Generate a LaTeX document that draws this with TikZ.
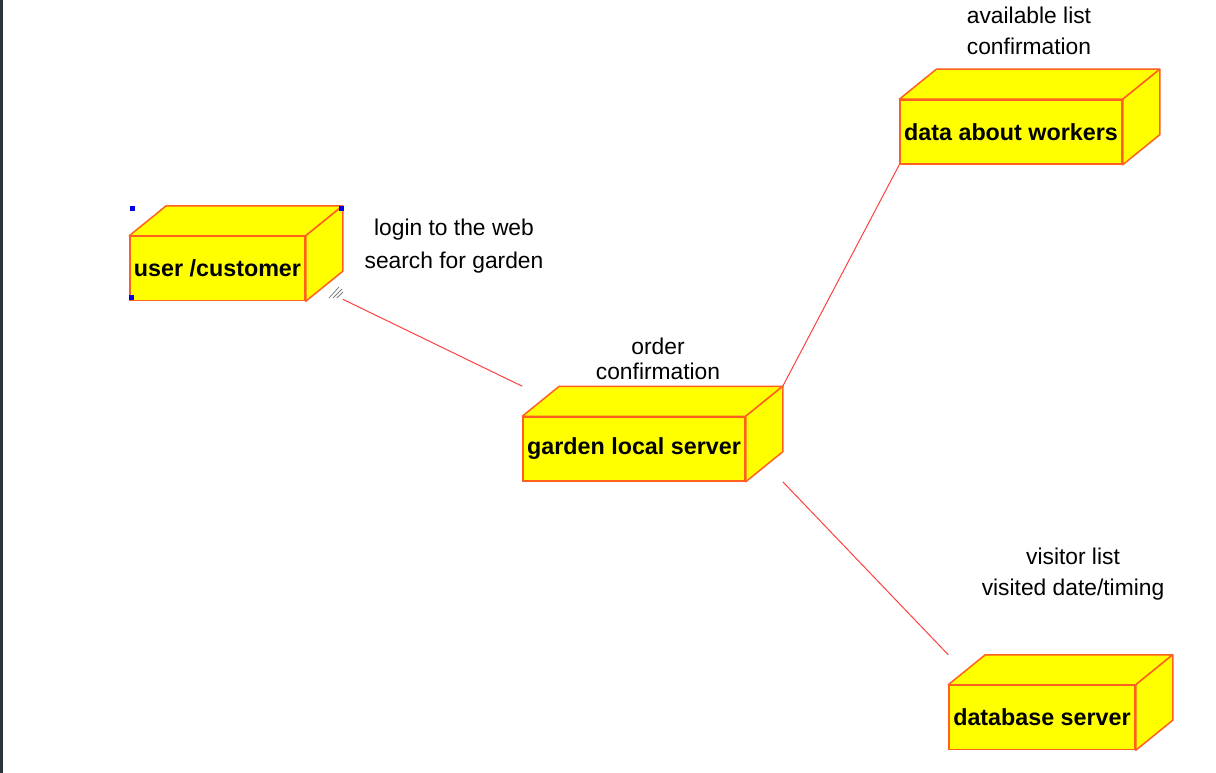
\documentclass[tikz,border=0pt]{standalone}
\usepackage{fontspec}
\setmainfont{Liberation Sans}
\usetikzlibrary{positioning, backgrounds, calc}
\definecolor{gelb}{RGB}{255,255,0}
\definecolor{kante}{RGB}{255,96,32}
\definecolor{linie}{RGB}{255,64,64}
\definecolor{rahmen}{RGB}{44,52,62}
\definecolor{griff}{RGB}{0,0,230}
\tikzset{knoten/.style={rectangle,draw=kante,fill=gelb,line width=1.5pt,inner sep=0,minimum height=64,
		font=\bfseries\fontsize{23.3}{28}\selectfont},
	flaeche/.style={draw=kante,fill=gelb,line width=1.5pt,line join=round},
	verbindung/.style={draw=linie,line width=1pt},
	notiz/.style={font=\fontsize{22.8}{26}\selectfont,align=center,inner sep=0},
	griff/.style={fill=griff} }

\begin{document}
\begin{tikzpicture}[x=1pt,y=-1pt]
  \useasboundingbox (0,0) rectangle (1216,773);
  \fill[rahmen] (0,0) rectangle (2.5,773);

  \node (user) [knoten, minimum width=175] at (217.5,268.5) {user /customer};
  \node (garden) [knoten, minimum width=222] at (634,449) {garden local server};
  \node (workers) [knoten, minimum width=222] at (1011,132) {data about workers};
  \node (db) [knoten, minimum width=186] at (1042,717.5) {database server};

  % top and side of each box
  \foreach \n in {user,garden,workers,db} {
  	\draw[flaeche] (\n.north west) -- ++(37,-30) -- ($(\n.north east)+(37,-30)$) -- (\n.north east) -- cycle;
  	\draw[flaeche] (\n.north east) -- ++(37,-30) -- ($(\n.south east)+(37,-30)$) -- (\n.south east) -- cycle;
  }

  \begin{pgfonlayer}{background}
  	\draw[verbindung] ($(user.south east)+(37,-2)$) -- ($(garden.north west)+(0,-30)$);
  	\draw[verbindung] ($(garden.north east)+(37,-30)$) -- (workers.south west);
  	\draw[verbindung] ($(garden.south east)+(37,0)$) -- ($(db.north west)+(0,-30)$);
  \end{pgfonlayer}

  \node (lblUser) [notiz] at (454,246) {login to the web\\[7pt]search for garden};
  \node (lblGarden) [notiz] at (658,359) {order\\[-1pt]confirmation};
  \node (lblWorkers) [notiz] at (1029,31) {available list\\[5pt]confirmation};
  \node (lblDb) [notiz] at (1073,574.5) {visitor list\\[5pt]visited date/timing};

  % selection handles of user box
  \fill[griff] (129.5,206) rectangle ++(5,5);
  \fill[griff] (339,206) rectangle ++(5,5);
  \fill[griff] (129,295) rectangle ++(5,5);
  \draw[gray, line width=0.8pt] (329,298) -- (339,287) (333,298) -- (342,289) (337,298) -- (343,292);
\end{tikzpicture}
\end{document}
